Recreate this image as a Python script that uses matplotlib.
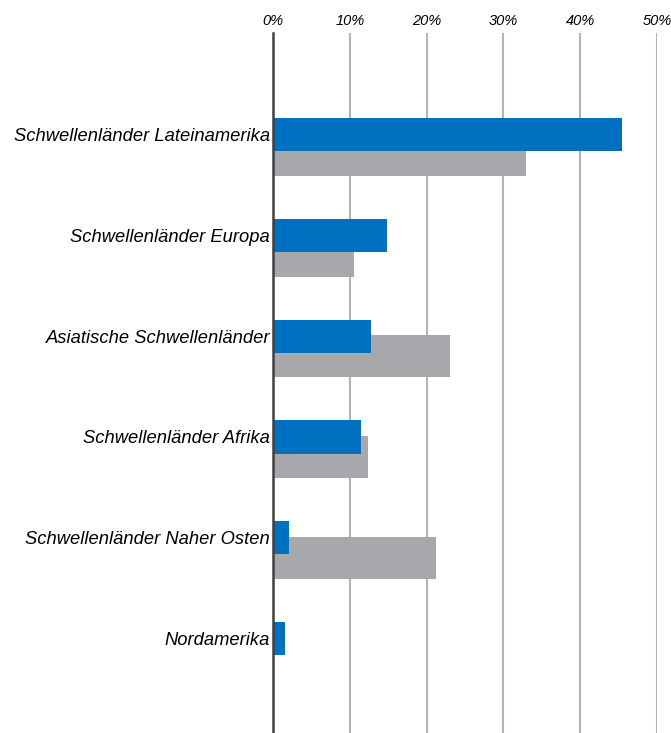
import numpy as np
import matplotlib.pyplot as plt

plt.rcParams['font.family'] = ['Liberation Sans', 'DejaVu Sans']

# Data
regions = ['Schwellenländer Lateinamerika', 'Schwellenländer Europa',
           'Asiatische Schwellenländer', 'Schwellenländer Afrika',
           'Schwellenländer Naher Osten', 'Nordamerika']
blue_vals = [45.5, 14.8, 12.7, 11.4, 2.1, 1.6]
grey_vals = [32.9, 10.6, 23.1, 12.4, 21.2, 0.0]
ticks = [0, 10, 20, 30, 40, 50]
tick_labels = ['0%', '10%', '20%', '30%', '40%', '50%']

fig = plt.figure(figsize=(6.71, 7.33), dpi=100)
ax = fig.add_axes([273 / 671, 0, 384 / 671, 700 / 733])

y = np.arange(len(regions))
ax.barh(y + 0.2, grey_vals, height=0.42, color='#a7a8ab', zorder=2)
ax.barh(y, blue_vals, height=0.33, color='#0070c0', zorder=3)

ax.set_xlim(0, 50)
ax.set_ylim(5.94, -1.01)
ax.xaxis.tick_top()
ax.set_xticks(ticks)
ax.set_xticklabels(tick_labels, fontstyle='italic', fontsize=10.5)
ax.set_yticks(y)
ax.set_yticklabels(regions, fontstyle='italic', fontsize=13.2)
ax.tick_params(length=0, pad=2)
ax.tick_params(axis='x', pad=3.5)

ax.grid(axis='x', color='#b3b3b3', linewidth=1.5, zorder=0)
ax.set_axisbelow(True)
for s in ['top', 'right', 'bottom']:
    ax.spines[s].set_visible(False)
ax.spines['left'].set_color('#404040')
ax.spines['left'].set_linewidth(1.8)
ax.spines['left'].set_zorder(4)

fig.savefig('out.png', dpi=100)
